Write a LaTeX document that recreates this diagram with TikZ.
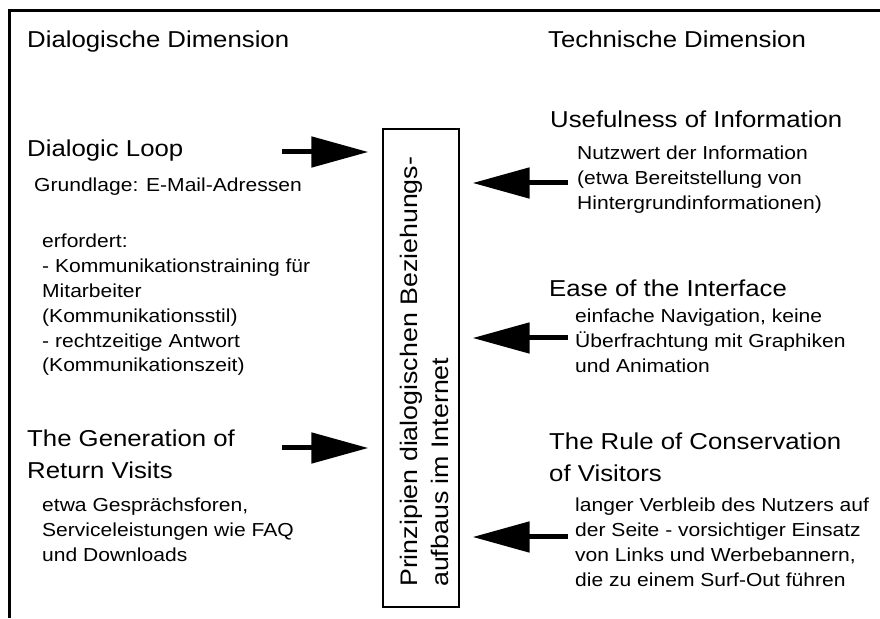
\documentclass[tikz,border=0pt]{standalone}
\usepackage{fontspec}
\setmainfont{Liberation Sans}[FakeStretch=1.12]
\usetikzlibrary{arrows.meta}
\newcommand\mylines[1]{\begin{tabular}[t]{@{}l@{}}#1\end{tabular}}
\begin{document}
\begin{tikzpicture}[x=1pt,y=1pt,
  head/.style={anchor=base west, inner sep=0pt, font=\fontsize{23}{32}\selectfont},
  txt/.style={anchor=base west, inner sep=0pt, font=\fontsize{18.8}{24.8}\selectfont},
  bigarrow/.style={line width=5pt, -{Triangle[length=57pt,width=30pt]}},
  frame/.style={line width=2.7pt}]
\useasboundingbox (0,0) rectangle (880,618);
% frame
\draw[frame] (9.7,0) -- (9.7,607.3) -- (880,607.3);
% column titles
\node[head] (dd) at (27,570) {Dialogische Dimension};
\node[head] (td) at (548,570) {Technische Dimension};
% left column
\node[head] (dl) at (27,461) {Dialogic Loop};
\node[txt] (dl1) at (34,426) {Grundlage: E-Mail-Adressen};
\node[txt] (dl2) at (42,370) {\mylines{erfordert:\\- Kommunikationstraining für\\Mitarbeiter\\(Kommunikationsstil)\\- rechtzeitige Antwort\\(Kommunikationszeit)}};
\node[head] (gr) at (27,171) {\mylines{The Generation of\\Return Visits}};
\node[txt] (gr1) at (42,106) {\mylines{etwa Gesprächsforen,\\Serviceleistungen wie FAQ\\und Downloads}};
% right column
\node[head] (uf) at (550,490) {Usefulness of Information};
\node[txt] (uf1) at (577,458) {\mylines{Nutzwert der Information\\(etwa Bereitstellung von\\Hintergrundinformationen)}};
\node[head] (ei) at (549,321) {Ease of the Interface};
\node[txt] (ei1) at (575,295) {\mylines{einfache Navigation, keine\\Überfrachtung mit Graphiken\\und Animation}};
\node[head] (rc) at (549,168) {\mylines{The Rule of Conservation\\of Visitors}};
\node[txt] (rc1) at (575,106) {\mylines{langer Verbleib des Nutzers auf\\der Seite - vorsichtiger Einsatz\\von Links und Werbebannern,\\die zu einem Surf-Out führen}};
% central box
\node[draw, line width=1.3pt, minimum width=76pt, minimum height=478pt, inner sep=0pt] (box) at (421,250) {};
\node[rotate=90, anchor=base west, inner sep=0pt, font=\fontsize{23.9}{31}\selectfont] (boxtext) at (417,31) {\mylines{Prinzipien dialogischen Beziehungs-\\aufbaus im Internet}};
% arrows
\coordinate (r1) at (282,466);
\coordinate (r2) at (282,170);
\coordinate (l1) at (568,435);
\coordinate (l2) at (568,280);
\coordinate (l3) at (568,81);
\draw[bigarrow, shorten >=14pt] (r1) -- (r1 -| box.west);
\draw[bigarrow, shorten >=14pt] (r2) -- (r2 -| box.west);
\draw[bigarrow, shorten >=13pt] (l1) -- (l1 -| box.east);
\draw[bigarrow, shorten >=13pt] (l2) -- (l2 -| box.east);
\draw[bigarrow, shorten >=13pt] (l3) -- (l3 -| box.east);
\end{tikzpicture}
\end{document}
